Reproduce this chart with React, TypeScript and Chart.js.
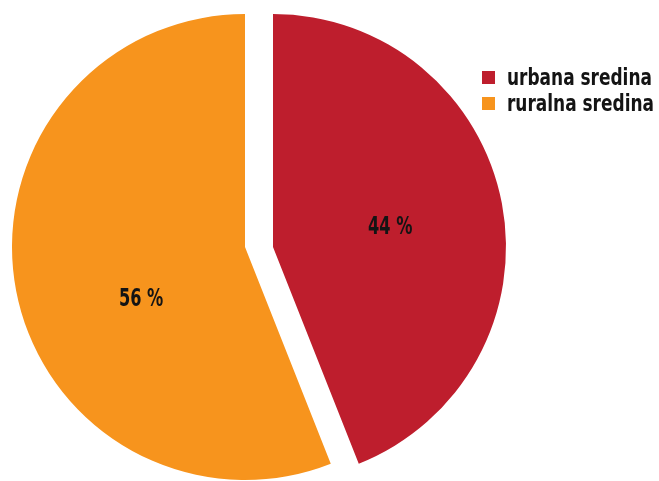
import React, { useEffect, useRef } from "react";
import { Chart, registerables } from "chart.js";

Chart.register(...registerables);

// ---- data ----
const categories = ["urbana sredina", "ruralna sredina"];
const values = [44, 56];
const valueLabels = ["44 %", "56 %"];
const colors = ["#BE1E2D", "#F7941D"];

// ---- style ----
const SHIFT_X = [14, -14];
const LABEL_ANGLE_FRAC = [0.51, 0.42];
const LABEL_RADIUS_FRAC = [0.51, 0.5];
const FONT = "'Liberation Sans Narrow', 'Arial Narrow', 'DejaVu Sans Condensed', sans-serif";
const LABEL_SCALE_X = 0.72;
const LEGEND_SCALE_X = 0.82;
const W = 659;
const H = 481;

export default function App() {
  const ref = useRef<HTMLCanvasElement>(null);

  useEffect(() => {
    const canvas = ref.current!;
    const explode = {
      id: "explode",
      beforeDatasetDraw(chart: any, args: any) {
        const ctx = chart.ctx;
        args.meta.data.forEach((arc: any, i: number) => {
          ctx.save();
          ctx.translate(SHIFT_X[i] ?? 0, 0);
          arc.draw(ctx);
          ctx.restore();
        });
        return false;
      },
      afterDatasetsDraw(chart: any) {
        const ctx = chart.ctx;
        const meta = chart.getDatasetMeta(0);
        meta.data.forEach((arc: any, i: number) => {
          const { x, y, startAngle, endAngle, outerRadius } = arc.getProps(
            ["x", "y", "startAngle", "endAngle", "outerRadius"],
            true
          );
          const a = startAngle + (endAngle - startAngle) * LABEL_ANGLE_FRAC[i];
          const r = outerRadius * LABEL_RADIUS_FRAC[i];
          const lx = x + (SHIFT_X[i] ?? 0) + Math.cos(a) * r;
          const ly = y + Math.sin(a) * r;
          ctx.save();
          ctx.translate(lx, ly);
          ctx.scale(LABEL_SCALE_X, 1);
          ctx.font = `bold 25px ${FONT}`;
          ctx.fillStyle = "#141414";
          ctx.textAlign = "center";
          ctx.textBaseline = "middle";
          ctx.fillText(valueLabels[i], 0, 0);
          ctx.restore();
        });
      },
    };

    const chart = new Chart(canvas, {
      type: "pie",
      data: {
        labels: categories,
        datasets: [
          {
            data: values,
            backgroundColor: colors,
            borderWidth: 0,
            radius: 233,
          } as any,
        ],
      },
      options: {
        responsive: false,
        animation: false,
        devicePixelRatio: 1,
        radius: 233,
        events: [],
        layout: { padding: { left: 0, right: 141, top: 13, bottom: 0 } },
        plugins: {
          legend: { display: false },
          tooltip: { enabled: false },
        },
      } as any,
      plugins: [explode],
    });
    return () => chart.destroy();
  }, []);

  return (
    <div style={{ position: "fixed", left: 0, top: 0, width: W, height: H, background: "#fff" }}>
      <canvas ref={ref} width={W} height={H} style={{ display: "block", width: W, height: H }} />
      <div style={{ position: "absolute", left: 482, top: 64, width: 177 }}>
        {categories.map((c, i) => (
          <div key={c} style={{ display: "flex", alignItems: "center", height: 26, whiteSpace: "nowrap" }}>
            <span style={{ display: "inline-block", flex: "none", width: 13, height: 13, background: colors[i], marginRight: 12 }} />
            <span
              style={{
                display: "inline-block",
                font: `bold 23px ${FONT}`,
                color: "#141414",
                lineHeight: "26px",
                transform: `scaleX(${LEGEND_SCALE_X})`,
                transformOrigin: "left center",
              }}
            >
              {c}
            </span>
          </div>
        ))}
      </div>
    </div>
  );
}
